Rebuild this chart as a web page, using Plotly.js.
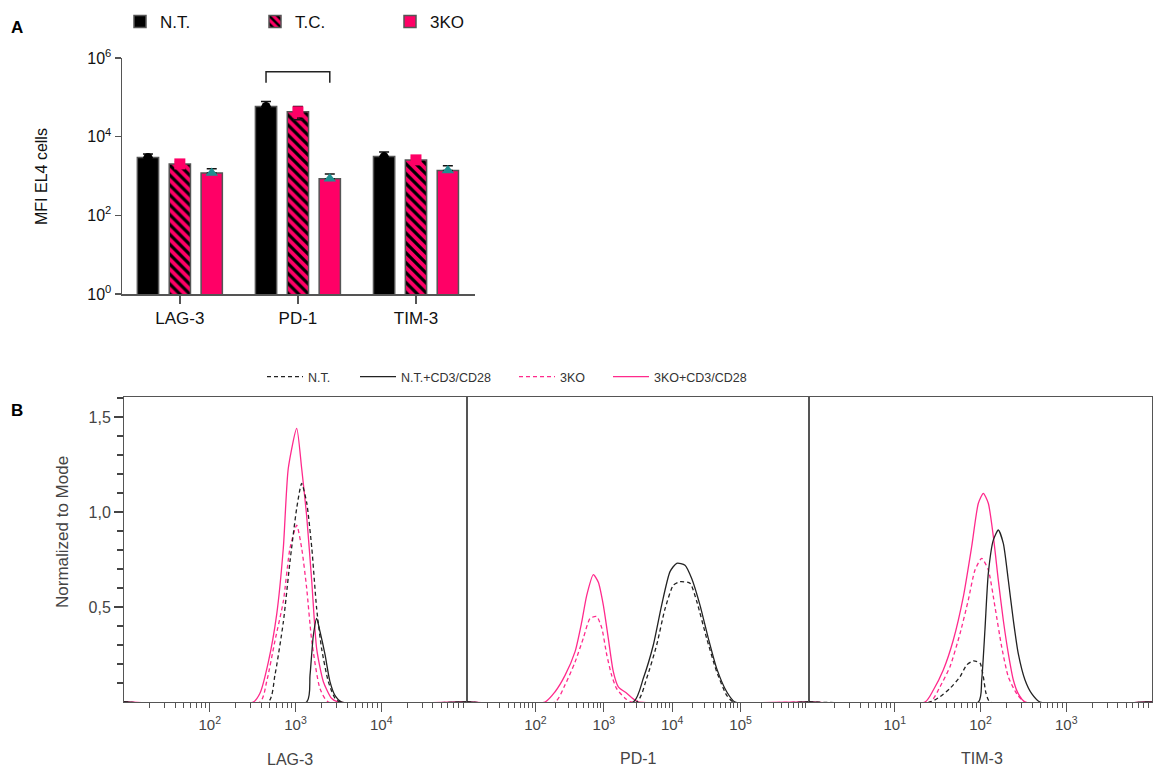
<!DOCTYPE html>
<html>
<head>
<meta charset="utf-8">
<script src="https://cdn.plot.ly/plotly-3.0.1.min.js"></script>
<style>html,body{margin:0;padding:0;background:#fff;}#chart{width:1154px;height:771px;}</style>
</head>
<body>
<div id="chart"></div>
<script>
// ---------- Panel A data ----------
const categories = ['LAG-3', 'PD-1', 'TIM-3'];
const groupNames = ['N.T.', 'T.C.', '3KO'];
const ntMean  = [2950, 58500, 3110];
const ntUpper = [3650, 78000, 4050];
const ntLower = [2950, 58500, 3110];
const tcMean  = [2030, 42700, 2570];
const tcUpper = [2300, 58500, 2900];
const tcLower = [2030, 26800, 2570];
const koMean  = [1200, 850, 1370];
const koUpper = [1520, 1120, 1810];
const koLower = [1200, 850, 1370];
const bracketY = [234000, 447000];

// ---------- Panel B data (intensity, normalized to mode) ----------
const lag3NtX = [482, 575, 721, 863, 1033, 1180, 1349, 1549, 1766, 2018, 2415, 2884, 3311];
const lag3NtY = [0, 0.14, 0.42, 0.74, 1.02, 1.15, 1.05, 0.81, 0.49, 0.28, 0.107, 0.02, 0];
const lag3NtStimX = [1349, 1476, 1614, 1766, 1932, 2208, 2523, 2884, 3467];
const lag3NtStimY = [0, 0.14, 0.35, 0.44, 0.37, 0.25, 0.107, 0.035, 0];
const lag3KoX = [385, 461, 575, 721, 863, 1033, 1180, 1349, 1549, 1932, 2415];
const lag3KoY = [0, 0.107, 0.32, 0.53, 0.81, 0.93, 0.81, 0.60, 0.32, 0.07, 0];
const lag3KoStimX = [322, 385, 482, 603, 721, 824, 1033, 1180, 1349, 1549, 1766, 2113, 2630, 3162];
const lag3KoStimY = [0, 0.046, 0.21, 0.46, 0.81, 1.23, 1.44, 1.23, 0.98, 0.63, 0.28, 0.107, 0.02, 0];

const pd1NtX = [3020, 4236, 5929, 7852, 10400, 13000, 18200, 22800, 31920, 44670, 62660, 78340];
const pd1NtY = [0, 0.125, 0.30, 0.49, 0.615, 0.633, 0.625, 0.53, 0.335, 0.16, 0.035, 0];
const pd1NtStimX = [2704, 3784, 5297, 7015, 9290, 11640, 15380, 19280, 25470, 33730, 44670, 62660, 82800];
const pd1NtStimY = [0, 0.125, 0.30, 0.51, 0.686, 0.73, 0.72, 0.65, 0.51, 0.335, 0.177, 0.054, 0];
const pd1KoX = [194, 271, 380, 501, 631, 787, 933, 1102, 1303, 1542, 2042, 2559];
const pd1KoY = [0, 0.09, 0.21, 0.335, 0.44, 0.45, 0.39, 0.25, 0.14, 0.07, 0.02, 0];
const pd1KoStimX = [138, 194, 271, 380, 475, 562, 703, 832, 984, 1164, 1377, 1629, 2163, 2858, 3199];
const pd1KoStimY = [0, 0.054, 0.14, 0.265, 0.42, 0.56, 0.67, 0.63, 0.51, 0.335, 0.16, 0.08, 0.046, 0.01, 0];

const tim3NtX = [25.8, 33.7, 44.1, 57.7, 69.0, 82.4, 98.6, 107.9, 115.9, 129.1];
const tim3NtY = [0, 0.028, 0.072, 0.133, 0.195, 0.216, 0.205, 0.133, 0.046, 0];
const tim3NtStimX = [94.4, 103.3, 112.7, 123.3, 141.3, 161.4, 184.5, 210.9, 241.5, 275.4, 330.4, 395.4, 494.3];
const tim3NtStimY = [0, 0.116, 0.38, 0.677, 0.853, 0.905, 0.835, 0.642, 0.43, 0.256, 0.116, 0.044, 0];
const tim3KoX = [25.8, 33.7, 44.1, 57.7, 72.1, 86.3, 103.3, 123.3, 147.6, 176.6, 210.9, 264.2, 330.4];
const tim3KoY = [0, 0.08, 0.186, 0.36, 0.537, 0.695, 0.756, 0.695, 0.50, 0.29, 0.133, 0.044, 0];
const tim3KoStimX = [22.5, 28.2, 36.8, 48.2, 63.1, 78.9, 94.4, 107.9, 123.3, 141.3, 161.4, 184.5, 210.9, 241.5, 275.4, 330.4];
const tim3KoStimY = [0, 0.063, 0.168, 0.326, 0.554, 0.817, 1.046, 1.098, 1.046, 0.87, 0.64, 0.43, 0.256, 0.116, 0.044, 0];

const histNames = ['N.T.', 'N.T.+CD3/CD28', '3KO', '3KO+CD3/CD28'];
const modeTickVals = [0.5, 1, 1.5];
const modeTickText = ['0,5', '1,0', '1,5'];

// ---------- styling ----------
const PINK = '#ff0066';
const LINEPINK = '#ff2a8c';
const TEAL = '#1f8f8f';
const AXC = '#555';
const W = 1154, H = 771;
const px = v => v / W;
const py = v => 1 - v / H;

const barOffsets = [-0.27, 0, 0.27];
const barWidth = 0.18;

const traces = [];
const means = [ntMean, tcMean, koMean];
const uppers = [ntUpper, tcUpper, koUpper];
const lowers = [ntLower, tcLower, koLower];
const fills = ['#000000', PINK, PINK];
const legendIds = ['legend', 'legend2', 'legend3'];

for (let g = 0; g < 3; g++) {
  const xs = categories.map((c, i) => i + barOffsets[g]);
  const tr = {
    type: 'bar', name: groupNames[g], x: xs, y: means[g], width: barWidth,
    xaxis: 'x', yaxis: 'y', legend: legendIds[g],
    marker: {color: fills[g], line: {color: AXC, width: 1.5}},
    error_y: {type: 'data', symmetric: false,
      array: uppers[g].map((u, i) => u - means[g][i]),
      arrayminus: lowers[g].map((l, i) => means[g][i] - l),
      color: '#111', thickness: 1.5, width: 5},
    hoverinfo: 'skip'
  };
  if (g === 1) tr.marker.pattern = {shape: '\\', fgcolor: '#000000', bgcolor: PINK, size: 7, solidity: 0.45};
  traces.push(tr);
}
// replicate markers
const mSymbols = ['circle', 'square', 'triangle-up'];
const mColors = ['#000000', PINK, TEAL];
const mSizes = [9, 11, 11];
for (let g = 0; g < 3; g++) {
  traces.push({
    type: 'scatter', mode: 'markers', x: categories.map((c, i) => i + barOffsets[g]), y: means[g],
    xaxis: 'x', yaxis: 'y', showlegend: false, cliponaxis: false,
    marker: {symbol: mSymbols[g], color: mColors[g], size: mSizes[g]}, hoverinfo: 'skip'
  });
}
// significance bracket over PD-1 (N.T. vs 3KO)
traces.push({
  type: 'scatter', mode: 'lines', xaxis: 'x', yaxis: 'y', showlegend: false, cliponaxis: false,
  x: [1 + barOffsets[0], 1 + barOffsets[0], 1 + barOffsets[2], 1 + barOffsets[2]],
  y: [bracketY[0], bracketY[1], bracketY[1], bracketY[0]],
  line: {color: '#222', width: 1.5}, hoverinfo: 'skip'
});

// ---------- histograms ----------
const panels = [
  {xa: 'x2', ya: 'y2', lo: 10, hi: 1e5, sets: [[lag3NtX, lag3NtY], [lag3NtStimX, lag3NtStimY], [lag3KoX, lag3KoY], [lag3KoStimX, lag3KoStimY]]},
  {xa: 'x3', ya: 'y3', lo: 10, hi: 1e6, sets: [[pd1NtX, pd1NtY], [pd1NtStimX, pd1NtStimY], [pd1KoX, pd1KoY], [pd1KoStimX, pd1KoStimY]]},
  {xa: 'x4', ya: 'y4', lo: 1, hi: 1e4, sets: [[tim3NtX, tim3NtY], [tim3NtStimX, tim3NtStimY], [tim3KoX, tim3KoY], [tim3KoStimX, tim3KoStimY]]}
];
const histStyle = [
  {color: '#222', dash: '4px,3px'},
  {color: '#222', dash: 'solid'},
  {color: LINEPINK, dash: '4px,3px'},
  {color: LINEPINK, dash: 'solid'}
];
const histLegends = ['legend4', 'legend5', 'legend6', 'legend7'];
const drawOrder = [2, 3, 0, 1];
panels.forEach((p, pi) => {
  drawOrder.forEach(s => {
    const [xs, ys] = p.sets[s];
    traces.push({
      type: 'scatter', mode: 'lines', name: histNames[s],
      x: [p.lo].concat(xs, [p.hi]), y: [0].concat(ys, [0]),
      xaxis: p.xa, yaxis: p.ya, cliponaxis: false,
      showlegend: pi === 0, legend: histLegends[s],
      line: {color: histStyle[s].color, dash: histStyle[s].dash, width: 1.3, shape: 'spline', smoothing: 0.6},
      hoverinfo: 'skip'
    });
  });
});
// invisible trace so the overlaying y axis (major ticks) is drawn
traces.push({type: 'scatter', mode: 'markers', x: [100], y: [0.5], xaxis: 'x2', yaxis: 'y5',
  showlegend: false, marker: {opacity: 0}, hoverinfo: 'skip'});

function sup(p) { return '10<sup>' + p + '</sup>'; }
function minorLog(a, b) {
  const out = [];
  for (let e = a; e < b; e++) for (let d = 2; d <= 9; d++) out.push(d * Math.pow(10, e));
  return out;
}
const tenths = [];
for (let k = 1; k <= 16; k++) tenths.push(k / 10);

const bxCommon = {
  type: 'log', showline: true, mirror: true, linecolor: AXC, linewidth: 1,
  ticks: 'outside', ticklen: 9, tickcolor: AXC, tickwidth: 1,
  showgrid: false, zeroline: false, tickfont: {size: 15, color: '#444'}
};
const byCommon = {
  range: [0, 1.605], showline: true, mirror: true, linecolor: AXC, linewidth: 1,
  showgrid: false, zeroline: false, domain: [py(702), py(397)]
};

const legBase = {orientation: 'h', xanchor: 'left', yanchor: 'middle', bgcolor: 'rgba(0,0,0,0)', borderwidth: 0};
const ann = (text, x, y, size, color, angle) => ({
  text: text, xref: 'paper', yref: 'paper', x: px(x), y: py(y), xanchor: 'center', yanchor: 'middle',
  showarrow: false, textangle: angle || 0, font: {size: size, color: color}
});
const layout = {
  width: W, height: H, margin: {l: 0, r: 0, t: 0, b: 0},
  paper_bgcolor: '#ffffff', plot_bgcolor: 'rgba(0,0,0,0)',
  font: {family: 'Liberation Sans, Arial, sans-serif', color: '#222'},
  barmode: 'overlay', showlegend: true,
  xaxis: {domain: [px(122), px(475)], anchor: 'y', range: [-0.49, 2.5],
    tickmode: 'array', tickvals: [0, 1, 2], ticktext: categories,
    ticks: 'outside', ticklen: 8, tickwidth: 1.5, tickcolor: AXC,
    showline: true, linecolor: AXC, linewidth: 1.5, showgrid: false, zeroline: false,
    tickfont: {size: 17, color: '#111'}},
  yaxis: {domain: [py(294), py(58)], anchor: 'x', type: 'log', range: [0, 6],
    tickmode: 'array', tickvals: [1, 100, 1e4, 1e6], ticktext: [sup(0), sup(2), sup(4), sup(6)],
    ticks: 'outside', ticklen: 6, tickwidth: 1.5, tickcolor: AXC,
    showline: true, linecolor: AXC, linewidth: 1.5, showgrid: false, zeroline: false,
    tickfont: {size: 16, color: '#111'}},
  xaxis2: Object.assign({}, bxCommon, {domain: [px(124), px(467)], anchor: 'y2', range: [1, 5],
    tickmode: 'array', tickvals: [100, 1000, 10000], ticktext: [sup(2), sup(3), sup(4)],
    minor: {tickmode: 'array', tickvals: minorLog(1, 5), ticks: 'outside', ticklen: 5, tickcolor: AXC}}),
  xaxis3: Object.assign({}, bxCommon, {domain: [px(467), px(809)], anchor: 'y3', range: [1, 6],
    tickmode: 'array', tickvals: [100, 1000, 10000, 100000], ticktext: [sup(2), sup(3), sup(4), sup(5)],
    minor: {tickmode: 'array', tickvals: minorLog(1, 6), ticks: 'outside', ticklen: 5, tickcolor: AXC}}),
  xaxis4: Object.assign({}, bxCommon, {domain: [px(809), px(1152)], anchor: 'y4', range: [0, 4],
    tickmode: 'array', tickvals: [10, 100, 1000], ticktext: [sup(1), sup(2), sup(3)],
    minor: {tickmode: 'array', tickvals: minorLog(0, 4), ticks: 'outside', ticklen: 5, tickcolor: AXC}}),
  // minor (0.1) ticks
  yaxis2: Object.assign({}, byCommon, {anchor: 'x2',
    tickmode: 'array', tickvals: tenths, showticklabels: false,
    ticks: 'outside', ticklen: 6, tickcolor: '#444', tickwidth: 1.3}),
  // major ticks + labels, overlaying the first histogram panel
  yaxis5: {overlaying: 'y2', anchor: 'x2', side: 'left', range: [0, 1.605],
    showline: false, showgrid: false, zeroline: false,
    tickmode: 'array', tickvals: modeTickVals, ticktext: modeTickText,
    ticks: 'outside', ticklen: 9, tickcolor: '#444', tickwidth: 1.3,
    tickfont: {size: 16, color: '#444'}},
  yaxis3: Object.assign({}, byCommon, {anchor: 'x3', showticklabels: false, ticks: ''}),
  yaxis4: Object.assign({}, byCommon, {anchor: 'x4', showticklabels: false, ticks: ''}),
  legend:  Object.assign({}, legBase, {x: px(120), y: py(22), font: {size: 17, color: '#111'}}),
  legend2: Object.assign({}, legBase, {x: px(255), y: py(22), font: {size: 17, color: '#111'}}),
  legend3: Object.assign({}, legBase, {x: px(390), y: py(22), font: {size: 17, color: '#111'}}),
  legend4: Object.assign({}, legBase, {x: px(262), y: py(377), itemwidth: 36, font: {size: 12.5, color: '#333'}}),
  legend5: Object.assign({}, legBase, {x: px(355), y: py(377), itemwidth: 36, font: {size: 12.5, color: '#333'}}),
  legend6: Object.assign({}, legBase, {x: px(514), y: py(377), itemwidth: 36, font: {size: 12.5, color: '#333'}}),
  legend7: Object.assign({}, legBase, {x: px(608), y: py(377), itemwidth: 36, font: {size: 12.5, color: '#333'}}),
  annotations: [
    ann('<b>A</b>', 17, 28, 17, '#000'),
    ann('<b>B</b>', 17, 410, 17, '#000'),
    ann('MFI EL4 cells', 42, 177, 16, '#111', -90),
    ann('Normalized to Mode', 62, 532, 17, '#444', -90),
    ann('LAG-3', 290, 759, 16, '#444'),
    ann('PD-1', 638, 758, 16, '#444'),
    ann('TIM-3', 982, 758, 16, '#444')
  ]
};

Plotly.newPlot('chart', traces, layout, {displayModeBar: false, staticPlot: true});
</script>
</body>
</html>
